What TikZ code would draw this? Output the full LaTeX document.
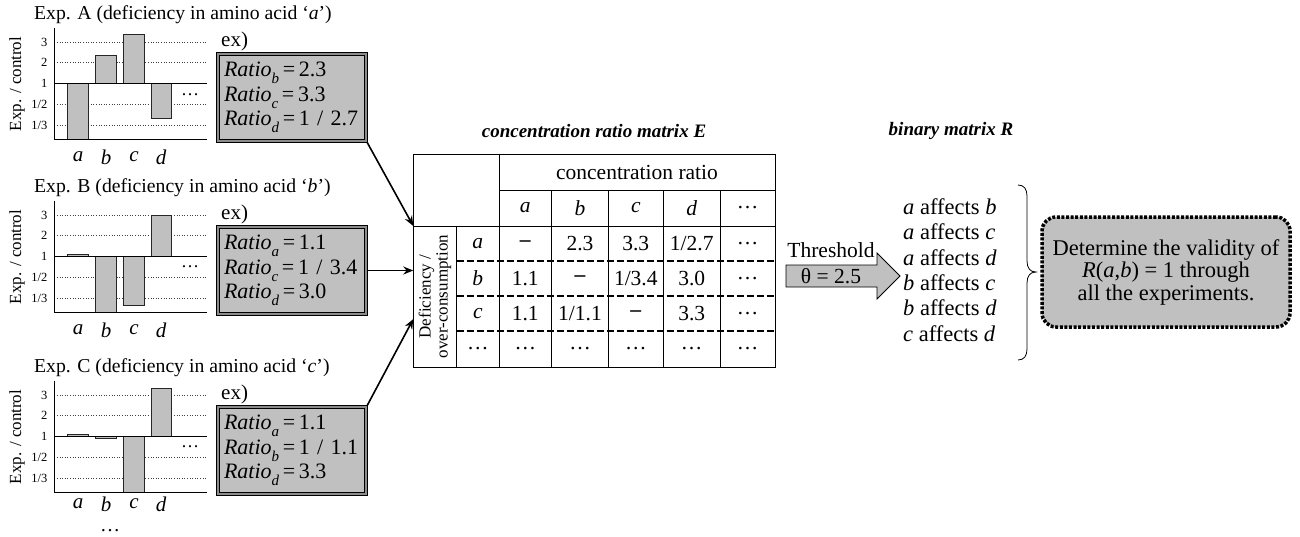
\documentclass[tikz,border=0pt]{standalone}
\usepackage{fontspec}
\setmainfont{Liberation Serif}
\usetikzlibrary{arrows.meta}
\definecolor{barfill}{HTML}{C0C0C0}
\definecolor{midgray}{HTML}{8C8C8C}

% one bar chart of an experiment: #1 vertical shift, #2 experiment, #3 amino acid,
% #4 bars as left/top/bottom, #5 y of the dots, #6 y of the bar letters
\newcommand\expchart[6]{%
\begin{scope}[shift={(0,#1)}]
  \node[exptitle] at (34,15) {Exp. #2 (deficiency in amino acid ‘\textit{#3}’)};
  \foreach \yy in {42.3,62.7,104.3,125.7}
    \draw[gridline] (54.3,\yy) -- (206.7,\yy);
  \foreach \xl/\yt/\yb in {#4}
    \draw[barstyle] (\xl,\yt) rectangle ({\xl+20.7},\yb);
  \draw[axisline] (54.3,28) -- (54.3,139.3) -- (206.7,139.3);
  \draw[axisline] (54.3,83.3) -- (206.7,83.3);
  \foreach \yy/\lab in {42.3/3,62.7/2,83.3/1,104.3/1\slash 2,125.7/1\slash 3}
    \node[ticklab] at (47.5,\yy) {\lab};
  \node[rotate=90, font=\fontsize{17}{17}\selectfont] at (17,84) {Exp. / control};
  \foreach \xc/\lab in {78/a,106/b,134/c,161/d}
    \node[barlab] at (\xc,#6) {\lab};
  \node[font=\fontsize{18}{18}\selectfont] at (190,#5) {\dots};
  \node[anchor=west, font=\fontsize{21}{21}\selectfont, inner sep=0] at (221,41.5) {ex)};
\end{scope}}

\newcommand\rsub[1]{\raisebox{-0.32em}{\fontsize{15}{15}\selectfont\itshape #1}}
\newcommand\ratioline[2]{\textit{Ratio}\rsub{#1}\,=\,#2}
\newcommand\nodash{\textbf{–}}

\begin{document}
\begin{tikzpicture}[x=1pt,y=-1pt,
  exptitle/.style={anchor=west, inner sep=0, font=\fontsize{19.7}{19.7}\selectfont},
  gridline/.style={dotted, line width=0.6pt, black!75},
  axisline/.style={line width=0.8pt},
  barstyle/.style={fill=barfill, draw=black!85, line width=0.7pt},
  ticklab/.style={anchor=east, inner sep=0, font=\fontsize{12.5}{12.5}\selectfont},
  barlab/.style={font=\fontsize{21}{21}\selectfont\itshape, inner sep=0},
  ratiobox/.style={draw=black, line width=1.7pt, double=midgray, double distance=1.5pt,
    fill=barfill, minimum width=148pt, minimum height=87pt, inner xsep=6pt,
    text width=136pt, align=left, font=\fontsize{22}{24.5}\selectfont},
  conn/.style={line width=1.6pt, -{Stealth[length=10pt,width=8pt]}},
  matline/.style={line width=1pt},
  rowsep/.style={line width=2pt, dash pattern=on 7pt off 3pt},
  cell/.style={font=\fontsize{21.5}{21.5}\selectfont, inner sep=0},
  mtitle/.style={font=\fontsize{19}{19}\selectfont\bfseries\itshape, inner sep=0},
]
\useasboundingbox (0,0) rectangle (1300,536);

% ---------- the three experiments ----------
\expchart{0}{A}{a}{67.7/83.3/139.3, 95.7/55/83.3, 123.3/34/83.3, 151/83.3/118.3}{95}{157}
\expchart{173}{B}{b}{67.7/81/83.3, 95.7/83.3/139.3, 123.3/83.3/132.7, 151/42/83.3}{94}{157}
\expchart{353}{C}{c}{67.7/81/83.3, 95.7/83.3/85.5, 123.3/83.3/139.3, 151/35/83.3}{94}{151}
\node[font=\fontsize{20}{20}\selectfont, inner sep=0] (more) at (110,531) {\dots};

\node[ratiobox] (boxA) at (292,97.5)
  {\ratioline{b}{2.3}\\ \ratioline{c}{3.3}\\ \ratioline{d}{1 / 2.7}};
\node[ratiobox] (boxB) at (292,270.5)
  {\ratioline{a}{1.1}\\ \ratioline{c}{1 / 3.4}\\ \ratioline{d}{3.0}};
\node[ratiobox] (boxC) at (292,450.5)
  {\ratioline{a}{1.1}\\ \ratioline{b}{1 / 1.1}\\ \ratioline{d}{3.3}};

% ---------- concentration ratio matrix ----------
\node[mtitle] (titleE) at (594,131) {concentration ratio matrix E};
\node[draw, matline, anchor=north west, minimum width=361.7pt, minimum height=213pt,
  inner sep=0] (mat) at (413.3,154) {};
\coordinate (inA) at (413.3,226);
\coordinate (inB) at (413.3,270.5);
\coordinate (inC) at (413.3,319);

\draw[matline] (499,154) -- (499,367);
\draw[matline] (499,190) -- (775,190);
\draw[matline] (413.3,226) -- (775,226);
\draw[matline] (456.7,226) -- (456.7,367);
\foreach \xx in {551.7,608.3,663.3,720}
  \draw[matline] (\xx,190) -- (\xx,367);
\foreach \yy in {261,296,331}
  \draw[rowsep] (456.7,\yy) -- (775,\yy);

\node[cell] at (637,172) {concentration ratio};
\foreach \xc/\lab in {525.3/\textit{a},580/\textit{b},635.8/\textit{c},691.7/\textit{d},747.5/\dots}
  \node[cell] at (\xc,208) {\lab};
\node[rotate=90, align=center, font=\fontsize{17}{17}\selectfont, inner sep=0]
  at (435,296.5) {Deficiency /\\over-consumption};
\foreach \yc/\r/\va/\vb/\vc/\vd in {243.5/\textit{a}/\nodash/2.3/3.3/1\slash 2.7,
    278.5/\textit{b}/1.1/\nodash/1\slash 3.4/3.0,
    313.5/\textit{c}/1.1/1\slash 1.1/\nodash/3.3,
    349/\dots/\dots/\dots/\dots/\dots}{
  \node[cell] at (477.8,\yc) {\r};
  \node[cell] at (525.3,\yc) {\va};
  \node[cell] at (580,\yc) {\vb};
  \node[cell] at (635.8,\yc) {\vc};
  \node[cell] at (691.7,\yc) {\vd};
  \node[cell] at (747.5,\yc) {\dots};
}

\draw[conn] (boxA.south east) -- (inA);
\draw[conn] (boxB.east) -- (inB);
\draw[conn] (boxC.north east) -- (inC);

% ---------- threshold ----------
\draw[fill=barfill, line width=0.8pt]
  (786,265) -- (877,265) -- (877,253) -- (900,276) -- (877,299) -- (877,287)
  -- (786,287) -- cycle;
\node[cell] (thr) at (831,250) {Threshold};
\node[cell] (theta) at (831,276) {θ = 2.5};

% ---------- binary matrix ----------
\node[mtitle] (titleR) at (951,131) {binary matrix R};
\node[anchor=west, align=left, inner sep=0, font=\fontsize{22.5}{25.3}\selectfont] (pairs) at (903,270)
  {\textit{a} affects \textit{b}\\ \textit{a} affects \textit{c}\\ \textit{a} affects \textit{d}\\
   \textit{b} affects \textit{c}\\ \textit{b} affects \textit{d}\\ \textit{c} affects \textit{d}};
\draw[line width=0.8pt] (1018,185) .. controls (1024,185) and (1027,189) .. (1027,196)
  -- (1027,261) .. controls (1027,268) and (1030,272) .. (1036,272)
  .. controls (1030,272) and (1027,276) .. (1027,283)
  -- (1027,349) .. controls (1027,356) and (1024,360) .. (1018,360);

\node[draw, fill=barfill, line width=3.5pt, dash pattern=on 3pt off 1.6pt,
  rounded corners=14pt, minimum width=248pt, minimum height=110pt, align=center,
  font=\fontsize{22.5}{22.5}\selectfont] (valid) at (1166,272)
  {Determine the validity of\\ \textit{R}(\textit{a},\textit{b}) = 1 through\\ all the experiments.};
\end{tikzpicture}
\end{document}
